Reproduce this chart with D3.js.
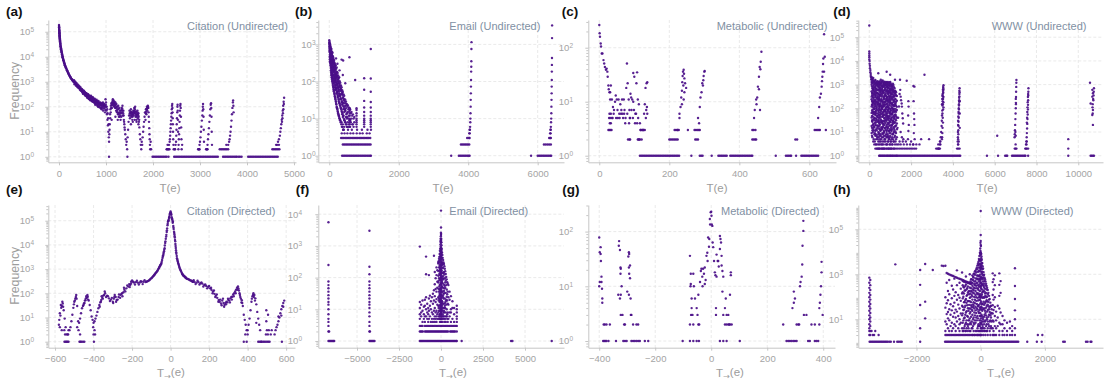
<!DOCTYPE html>
<html><head><meta charset="utf-8">
<script src="https://cdn.jsdelivr.net/npm/d3@7"></script>
<style>
html,body{margin:0;padding:0;background:#fff;}
svg{display:block;font-family:"Liberation Sans",Arial,Helvetica,sans-serif;}
</style></head><body>
<svg id="chart" width="1107" height="385"></svg>
<script>
// ---------------- (a) Citation, undirected: [T(e), frequency] ----------------
const citationUndirectedHead = [[0,186000],[1,170000],[2,158000],[3,141000],[4,130000],[5,120000],[6,110000],[7,102000],[8,95000],[9,89000],[10,83000],[11,77000],[12,72000],[13,67000],[14,63000],[15,60000],[17,55000],[19,50000],[21,46000],[23,42000],[25,38000],[28,34000],[30,31000],[33,28000],[36,25500],[39,23400],[42,21800],[45,20400],[48,18800],[52,17400],[56,15800],[60,14500],[64,13200],[68,12000],[72,11100],[76,10200],[80,9300],[85,8500],[90,7800],[95,7200],[100,6700],[105,6300],[110,5800],[116,5400],[122,5000],[128,4600],[134,4200],[141,3900],[148,3600],[156,3400],[164,3100],[172,2900],[181,2650],[190,2400],[199,2200],[208,2000],[218,1850],[227,1700],[236,1580],[245,1480],[255,1380],[265,1290],[276,1200],[288,1120],[300,1050],[312,1000],[326,930],[340,870],[355,810],[370,760],[385,700],[400,650],[420,590],[440,540],[460,490],[480,450],[500,410],[520,380],[540,350],[560,320],[580,295],[600,275],[625,250],[650,230],[675,215],[700,200],[725,185],[750,175],[775,160],[800,150],[830,138],[865,125],[900,118],[930,112],[965,105],[1000,100],
[2,150000],[5,112000],[8,88000],[12,68000],[16,53000],[20,43000],[26,33000],[32,26000],[40,20000],[50,15500],[62,12200],[75,9600],[90,7400],[106,5800],[124,4600],[145,3600],[170,2800],[195,2250],[222,1800],[250,1500],[280,1250],[310,1050],[345,880],[385,740],[430,610],[475,500],[525,420],[575,350],[630,290],[690,240]];
const citationUndirectedBand = [[350,950],[380,700],[420,620],[450,560],[470,480],[500,430],[510,330],[540,400],[560,280],[580,350],[600,230],[620,320],[640,260],[660,200],[680,280],[700,170],[720,240],[740,160],[760,210],[780,140],[800,190],[820,120],[840,170],[860,95],[880,150],[900,85],[920,140],[940,70],[960,130],[980,60],[1000,150],[990,200],[970,90],[950,110],[910,100],[890,120],[850,140],[830,100],[810,160],[790,170],[770,120],[730,190],[690,220],[670,180],[630,210],[590,300],[550,340],
[320,1150],[330,800],[345,1000],[360,700],[375,880],[390,620],[405,760],[415,560],[430,680],[445,480],[455,600],[465,440],[485,520],[495,380],[505,470],[515,340],[530,440],[545,300],[555,380],[570,270],[585,340],[595,250],[610,310],[615,230],[635,280],[645,200],[655,270],[665,190],[685,250],[695,180],[705,230],[715,160],[735,210],[745,150],[755,200],[765,140],[785,180],[795,125],[805,170],[815,110],[825,160],[835,130],[845,105],[855,150],[870,110],[875,140],[885,90],[895,135],[905,80],[915,125],[925,95],[935,150],[945,85],[955,120],[975,110],[985,75],[995,120],
[1010,70],[1020,50],[1030,30],[1040,18],[1050,10],[1060,6],[1065,4],[1070,8],[1075,12],[1080,20],[1090,35],[1100,60],[1110,90],[1120,120],[1130,150],[1140,170],[1150,140],[1160,180],[1170,130],[1180,160],[1190,110],[1200,150],[1210,90],[1220,130],[1230,70],[1240,100],[1250,60],[1260,110],[1270,50],[1280,90],[1290,40],[1300,70],[1310,30],[1320,55],[1330,90],[1340,60],[1350,110],[1360,45],[1370,70],[1380,30],[1390,20],[1400,12],[1410,8],[1420,5],[1430,3],[1440,4],[1450,2],[1460,6],[1470,12],[1480,25],[1490,45],[1500,70],[1510,35],[1520,55],[1530,80],[1540,40],[1550,60],[1560,30],[1570,50],[1580,70],[1590,45],[1600,90],[1610,55],[1620,100],[1630,40],[1640,65],[1650,30],[1660,50],[1670,70],[1680,35],[1690,55],[1700,25],[1710,15],[1720,8],[1730,5],[1740,3],[1750,2],[1760,4],[1770,3],[1780,6],[1790,10],[1800,16],[1810,25],[1820,40],[1830,60],[1840,30],[1850,80],[1860,50],[1870,100],[1880,70],[1890,110],[1900,90],[1905,60],[1910,40],[1915,25],[1920,14],[1925,8],[1930,5],[1935,3],[1940,2],[1950,4],[1960,2],
[1530,20],[1570,25],[1610,30],[1650,25],[1690,20],[1200,40],[1250,30],[1120,30],
[1015,100],[1025,80],[1035,55],[1045,35],[1055,20],[1085,50],[1095,80],[1105,110],[1115,140],[1125,90],[1135,120],[1145,200],[1155,110],[1165,150],[1175,100],[1185,130],[1195,90],[1205,120],[1215,70],[1225,100],[1235,60],[1245,80],[1255,50],[1265,80],[1275,40],[1285,60],[1295,55],[1305,45],[1315,70],[1325,40],[1335,75],[1345,85],[1355,70],[1365,55],[1375,45],[1385,25],[1395,15],[1505,55],[1515,45],[1525,65],[1535,60],[1545,50],[1555,45],[1565,40],[1575,60],[1585,55],[1595,65],[1605,70],[1615,80],[1625,60],[1635,50],[1645,45],[1655,40],[1665,60],[1675,50],[1685,45],[1695,40],[1705,30],[1845,55],[1855,65],[1865,80],[1875,85],[1885,90],[1895,100]];
const citationUndirectedSpikes = [[2300,2],[2310,3],[2330,2],[2340,3],[2350,2],[2355,4],[2360,5],[2365,7],[2370,10],[2375,14],[2380,20],[2385,28],[2390,40],[2395,55],[2400,80],[2405,110],[2410,130],[2413,90],[2416,60],[2420,35],[2423,20],[2426,10],[2430,5],[2435,3],
[2470,2],[2480,3],[2490,4],[2495,7],[2500,12],[2505,20],[2510,35],[2515,60],[2520,100],[2523,120],[2526,70],[2530,30],[2533,10],
[2545,3],[2550,5],[2555,8],[2560,14],[2565,25],[2570,45],[2575,70],[2580,110],[2585,130],[2590,90],[2595,40],[2600,15],[2605,5],[2610,2],[2540,2],[2620,3],
[2970,2],[2980,2],[2990,3],[3000,4],[3010,6],[3020,10],[3030,16],[3040,28],[3050,45],[3055,70],[3060,100],[3065,130],[3070,80],[3075,40],[3080,12],[3085,4],
[3140,2],[3150,2],[3160,3],[3170,5],[3180,8],[3190,14],[3200,25],[3210,45],[3220,80],[3228,120],[3235,140],[3240,90],[3245,40],[3250,10],[3255,3],
[3560,3],[3600,3],[3620,4],[3630,5],[3640,7],[3650,10],[3660,16],[3670,28],[3680,50],[3690,90],[3700,150],[3705,180],[3710,110],[3715,60],
[4620,3],[4640,3],[4660,4],[4680,5],[4700,7],[4710,10],[4720,14],[4730,20],[4740,30],[4750,45],[4760,70],[4770,110],[4780,160],[4790,230],[4785,130],[4775,80],[4765,55],[4755,35],[4745,25],[4680,3]];
const citationUndirectedOnes = [1064,1455,1990,2020,2050,2080,2110,2140,2170,2200,2230,2260,2290,2330,2450,2480,2510,2540,2570,2600,2630,2660,2690,2720,2750,2780,2810,2840,2870,2900,2930,2960,2990,3020,3050,3080,3110,3140,3170,3200,3230,3260,3290,3320,3350,3380,3490,3520,3550,3580,3610,3640,3670,3700,3730,3760,3785,3820,3850,3885,4025,4055,4085,4115,4145,4175,4205,4235,4265,4295,4325,4355,4385,4415,4445,4475,4505,4535,4565,4595,4625,4655];
const citationUndirectedTwos = [2290,2320,2440,2460,2960,2990,3130,3160,3420,3450,3480,3510,3540,3570,3600,4540,4570,4600,4630,4660,4690];

// ---------------- (b) Email, undirected ----------------
const emailUndirectedHead = [[0,[1290,1120,870]],[8,[1180,960,640]],[16,[1060,820,530,400]],[25,[990,690,480,330]],[34,[900,760,410,270]],[43,[830,580,440,230]],[52,[720,610,340,250,180]],[61,[760,470,380,210,150]],[70,[650,500,290,240,130]],[80,[580,420,330,170,115]],[90,[610,360,260,190,100]],[100,[490,390,220,140,85]],[112,[450,300,240,120,72]],[124,[400,330,180,105,62]],[136,[370,250,200,90,58]],[148,[320,270,150,112,47]],[160,[300,210,130,70,40]],[172,[260,230,105,82,35]],[185,[275,165,120,60,30]],[198,[220,150,92,66,25]],[212,[240,130,78,48,21]],[226,[180,140,85,52,19]],[240,[170,100,70,38,16]],[255,[145,115,55,42,14]],[270,[125,90,62,30,12]],[285,[130,72,48,33,11]],[300,[102,80,41,25,10]],[318,[92,58,45,22,9]],[336,[78,63,34,19]],[354,[70,45,28,16,8]],[372,[58,49,24,13]],[390,[52,36,27,11,7]],[410,[45,31,18,12]],[430,[41,26,15,9,6]],[455,[33,22,17,8]],[480,[29,19,11,7]],[505,[25,14,10,6]],[535,[23,15,8]],[565,[20,12,7]],[600,[18,9,6]],[640,[15,10]],[680,[13,7]],[720,[11,8]],
[4,[1050,760]],[12,[980,700,460]],[20,[900,610,350]],[30,[780,560,300]],[39,[700,500,360]],[48,[650,420,300,200]],[57,[600,400,280,165]],[66,[540,360,260,145]],[75,[520,330,200,125]],[85,[470,300,220,105]],[95,[430,280,160,92]],[106,[380,250,150,78]],[118,[350,220,135,68]],[130,[310,200,120,55]],[142,[290,180,100,50]],[154,[250,160,95,44]],[166,[225,140,80,38]],[178,[200,125,70,33]],[192,[180,110,63,28]],[205,[160,98,56,24]],[219,[145,88,50,20]],[233,[128,78,44,18]],[248,[112,68,38,15]],[262,[100,60,34,13]],[278,[88,54,28,12]],[292,[78,46,26,10]],[309,[70,40,23,9]],[327,[62,36,20,8]],[345,[55,32,18,7]],[363,[48,28,15,6]],[381,[43,25,14,6]],[400,[38,22,12,5]],[420,[34,20,10,5]],[442,[30,18,9]],[467,[26,16,8]],[492,[23,13,7]],[520,[21,11,6]],[550,[18,10,6]],[583,[16,9]],[620,[14,8]],[660,[12,7]],[700,[10,6]],
[590,[6,7,8,9,10,12,14,17,19]],[785,[6,7,8,9,10,12,14,17,19]],[1005,[6,7,8,9,10,12,15,20,30,60,122]],[1195,[6,7,8,9,10,12,15,20,28,53,120,750]]];
const emailUndirectedScatter = [[355,390],[400,370],[580,450],[745,110],[390,150],[295,200],[235,300],[195,420],[460,90],
[4040,3],[4045,4],[4050,5],[4055,6],[4060,8],[4063,10],[4066,14],[4070,21],[4073,32],[4076,48],[4079,73],[4082,110],[4085,185],[4088,250],[4090,350],[4092,750],[4095,1150],
[6360,3],[6370,4],[6375,5],[6380,6],[6385,8],[6390,10],[6393,14],[6396,21],[6399,32],[6402,48],[6404,73],[6406,110],[6408,185],[6410,280],[6412,430],[6414,1480],[6416,3250]];
const emailUndirectedOnes = [370,410,450,490,530,570,610,650,690,730,770,810,850,890,930,970,1010,1050,1090,1130,1170,1200,3510,3730,3770,3810,3850,3890,3930,3970,4010,4040,5810,6000,6040,6080,6120,6160,6200,6240,6280,6320,6360,6390];
const emailUndirectedTwos = [390,430,470,510,550,590,630,670,710,750,790,830,870,910,950,990,1030,1070,1110,1150,1190,3790,3830,3870,3910,3950,3990,4030,6180,6230,6280,6330,6380];
const emailUndirectedThrees = [340,380,420,460,500,540,580,620,660,700,740,780,820,860,900,940,980,1020,1060,1100,1140,1180,3970,4020,6330,6380];
const emailUndirectedFours = [360,440,520,610,690,790,880,960,1080,1160,4030,6360];
const emailUndirectedFives = [400,540,650,800,940,1100,1200,4040,6370];

// ---------------- (c) Metabolic, undirected ----------------
const metabolicUndirectedPoints = [[0,263],[1,185],[2,160],[4,120],[5,105],[7,78],[9,78],[12,59],[14,51],[16,44],[19,39],[21,41],[23,36],[24,29],[26,20],[27,17],[29,15],[31,15],[33,20],[36,11],[31,11],[29,6],[31,5],[36,5],[39,8],[41,6],[45,10],[47,13],[50,11],[53,5],[55,11],[57,6],[60,9],[62,6],[65,11],[68,5],[70,11],[71,6],[74,4],[77,18],[79,51],[81,22],[84,11],[86,7],[87,5],[89,14],[91,12],[94,11],[97,10],[97,34],[100,29],[103,6],[106,22],[108,35],[110,11],[113,9],[116,4],[118,3],[121,2],[123,3],[126,3],[128,6],[130,9],[132,18],[135,22],[137,23],[134,7],[137,6],
[28,5],[33,4],[38,5],[42,7],[48,5],[52,7],[58,5],[63,7],[66,6],[72,7],[75,5],[80,6],[85,4],[88,5],[92,7],[96,5],[99,7],[102,4],[105,6],[108,4],[111,5],[30,4],[33,6],[133,5],[136,8],
[229,6],[234,12],[236,16],[237,23],[239,36],[241,39],[242,33],[243,27],[245,22],[248,18],[243,15],[241,11],[236,9],[232,8],[229,5],[224,3],[253,3],[238,30],[240,20],
[282,5],[287,8],[289,12],[292,15],[294,22],[297,25],[300,36],[301,37],[285,4],[298,30],[296,20],
[442,5],[444,7],[448,11],[451,12],[453,19],[456,29],[458,44],[461,55],[463,84],[459,7],[456,17],[449,9],[460,40],
[625,5],[630,12],[633,14],[635,19],[637,29],[638,36],[640,63],[642,177],[644,68],[647,3],[642,36],[639,50],[636,24],[628,8]];
const metabolicUndirectedOnes = [116,120,124,128,132,136,140,144,148,152,156,160,164,168,172,176,180,184,188,192,196,200,204,208,212,216,220,224,228,263,287,291,295,321,340,344,348,352,356,360,364,374,378,382,386,390,394,398,402,406,410,414,418,422,426,430,434,437,504,533,537,541,545,548,562,577,581,585,589,593,597,601,605,609,613,617,621,625];
const metabolicUndirectedTwos = [82,86,88,110,112,114,116,200,204,208,212,216,220,224,274,278,282,437,441,445,448,560,565];
const metabolicUndirectedThrees = [26,29,32,35,118,122,126,130,215,219,223,227,272,276,280,284,287,437,441,446,615,619,623,627,630];

// ---------------- (d) WWW, undirected ----------------
const wwwUndirectedColumns = [[0,[310000,25000,20500,17000,14200,11500]],[15,[9800,7600]],[30,[6200,4900]],[50,[4100,3300]],[70,[2800,2300]],[90,[2000,1650]],
[110,[2100,1300,980,520,310,240,120,64,41,18,9]],[150,[1700,1450,700,430,190,150,88,33,27,12,6]],[190,[1900,860,610,350,270,110,72,58,22,14,4]],[240,[1250,1100,520,480,200,160,95,40,31,16,8,3]],[290,[1580,900,740,330,230,130,70,52,20,11,7,2]],[330,[1150,680,560,410,180,97,84,36,25,13,5,3]],[380,[1400,1020,450,290,250,140,61,44,19,15,6,2]],[430,[3000,1200,800,390,210,170,78,50,29,10,8,4,2]],[470,[1350,960,640,300,260,120,100,39,24,17,9,3,1]],[510,[1050,720,500,370,150,115,66,47,21,13,5,2,1]],[550,[1600,1150,580,440,220,135,80,55,34,12,7,4,1]],[600,[1280,830,690,310,195,105,92,30,26,14,6,3,2,1]],[640,[1480,770,540,420,170,125,60,45,23,16,8,4,2,1]],[690,[1190,990,460,280,240,118,74,51,28,11,9,3,2,1]],[730,[1320,870,600,340,185,150,86,37,20,15,5,2,1]],[780,[1090,930,430,360,205,98,70,48,32,12,7,4,1]],[830,[3500,1260,750,520,265,160,112,58,35,18,10,6,3,2,1]],[870,[1170,810,470,300,230,130,76,43,25,14,8,3,1]],[910,[980,700,560,390,175,108,90,38,22,17,6,4,2,1]],[960,[1220,880,500,270,215,145,63,49,30,11,9,5,2,1]],[1000,[2600,1310,640,450,320,190,96,67,27,19,7,3,1]],[1040,[1000,590,410,250,160,82,54,33,15,12,4,2,1]],[1090,[860,730,380,310,140,104,59,42,20,13,6,3,1]],[1130,[1080,620,470,230,178,88,71,29,24,8,5,2,1]],[1180,[780,510,330,205,122,93,44,36,14,10,4,2,1]],[1230,[1600,560,420,245,150,78,53,26,17,7,3,1]],[1280,[480,350,190,128,72,46,31,19,9,5,2,1]],[1320,[330,210,115,85,40,23,13,6,3,1]],
[130,[1800,1150,830,450,360,205,140,78,48,29,15,7]],[170,[1500,1230,650,560,300,170,130,66,45,20,10]],[215,[1350,990,720,400,230,185,92,70,35,17,12,5]],[265,[1450,780,600,390,290,145,115,58,38,24,9,4]],[310,[1220,1030,480,350,205,160,75,62,29,19,8,3]],[355,[1300,910,640,450,280,120,105,49,33,12,7,2]],[405,[1100,870,590,330,190,155,88,42,27,18,5,3]],[450,[1250,1050,560,420,240,145,70,57,32,14,6,2]],[490,[1180,820,720,360,230,135,86,53,26,20,7,4,2]],[530,[1350,910,600,330,200,165,90,41,30,11,8,3]],[575,[1150,990,510,390,250,125,74,60,25,16,5,2]],[620,[1380,880,620,350,215,110,98,44,28,13,9,3]],[665,[1050,830,500,460,190,150,68,52,22,18,6,2]],[710,[1250,940,560,310,255,128,83,39,30,10,7,4]],[755,[1150,760,650,380,180,140,77,56,24,14,5,2]],[805,[1280,990,540,330,240,112,90,41,29,16,8,3]],[850,[1060,880,610,290,210,150,64,50,21,12,6,2]],[890,[1300,760,520,420,200,120,85,46,33,15,7,4]],[935,[1120,930,450,330,240,100,73,37,24,11,5,2]],[980,[1020,700,580,300,170,130,60,44,19,13,6,3]],[1020,[1150,830,490,360,215,95,77,35,26,9,4,2]],[1065,[950,680,420,280,165,120,56,39,18,11,5,2]],[1110,[880,600,520,260,150,98,64,31,21,8,3]],[1155,[960,560,380,300,135,80,50,28,16,9,4]],[1205,[700,470,310,190,130,70,40,24,12,6,2]],[1255,[520,380,240,160,95,55,34,18,10,4]]];
const wwwUndirectedScatter = [[1470,1600],[1480,600],[1500,310],[1520,220],[1550,160],[1560,118],[1580,60],[1600,38],[1620,23],[1500,10],[1560,6],[1630,5],[1450,400],[1420,120],[1380,40],[1350,15],
[1790,1450],[1870,200],[1880,118],[1860,50],[1890,20],[1870,11],[1850,5],[2110,870],[2160,820],[2120,200],[2140,60],[2150,35],[2160,20],[2130,9],[2170,5],[2100,3],[2640,2600],[2480,5],[2860,5],[2400,3],[2250,3],[6120,7],
[3300,2],[3340,2],[3380,3],[3400,4],[3420,6],[3440,10],[3460,18],[3470,30],[3480,50],[3490,80],[3500,130],[3510,200],[3520,320],[3530,500],[3540,700],[3550,950],[3530,250],[3520,150],[3500,60],[3510,400],[3540,450],[3550,600],[3545,300],[3480,150],[3490,250],[3500,350],[3520,600],[3535,800],[3545,180],[3550,110],[3530,90],[3515,40],[3525,25],[3505,15],[3495,9],[3485,6],[3475,5],
[4250,3],[4250,5],[4260,8],[4260,12],[4270,18],[4270,27],[4280,40],[4280,60],[4290,90],[4290,130],[4300,190],[4300,280],[4310,400],[4310,550],[4320,700],[4320,480],[4310,320],[4300,220],[4290,150],[4280,100],[4270,70],[4260,45],[4250,30],[4250,20],[4240,10],[4240,6],[4230,4],[4330,200],[4330,60],[4330,15],
[6950,6],[6960,8],[6970,12],[6980,20],[6990,35],[7000,60],[7010,100],[7015,170],[7020,300],[7025,500],[7030,800],[7040,1580],[7035,1200],[7005,7],[6990,10],[7020,150],[7010,250],
[7500,3],[7520,4],[7530,6],[7540,9],[7550,14],[7560,22],[7570,35],[7580,55],[7590,90],[7595,140],[7600,220],[7605,350],[7610,500],[7615,700],[7600,400],[7590,300],[7580,180],[7570,110],[7560,70],[7550,40],[7540,25],
[9520,2],[9520,5],
[10560,1200],[10590,160],[10670,600],[10700,430],[10670,310],[10720,220],[10700,85],[10670,52],[10700,20],[10750,700],[10740,500],[10730,350],[10710,250],[10690,150],[10680,110],[10690,60]];
const wwwUndirectedOnes = [1360,1420,1480,1540,1600,1660,1720,1780,1840,1900,1960,2020,2080,2140,2200,2260,2320,2380,2440,2500,2560,2620,2680,2740,2800,2860,2920,2980,3040,3100,3160,3220,3280,3340,3400,3460,3520,3580,3640,3700,3760,3820,3880,3940,4000,4060,4120,4180,4240,4300,4350,5630,6160,6500,6560,6600,6830,6890,6950,7010,7070,7130,7190,7250,7310,7370,7430,7470,7600,9520,10590,10640,10700,10750];
const wwwUndirectedTwos = [1360,1440,1520,1600,1680,1760,1840,1920,2000,2080,2160,2240,3200,3260,3320,3380,4200,4260,4320,6960,7000,7040,7460,7500,7540,7600];
const wwwUndirectedThrees = [1400,1500,1650,1800,1950,2100,3300,3400,4250,7000,7520];
const wwwUndirectedFours = [1450,1600,1750,2000,3380,4280,7530];

// ---------------- (e) Citation, directed: [T→(e), frequency] ----------------
const citationDirectedPeak = [[0,240000],[-2,215000],[2,210000],[-4,185000],[4,175000],[-6,155000],[6,140000],[-8,130000],[8,115000],[-10,110000],[10,100000],[-12,98000],[12,90000],[-14,90000],[14,60000],[-16,65000],[16,45000],[-18,48000],[18,35000],[-20,34000],[20,27000],[-22,26000],[22,20000],[-25,18000],[24,14000],[-28,12000],[26,9000],[-31,7300],[28,6000],[-34,5500],[30,4300],[-37,4200],[33,2800],[-40,3300],[36,2200],[-44,2400],[39,1800],[-48,1750],[42,1500],[-52,1500],[46,1200],[-56,1300],[50,950],[-61,1080],[55,790],[-67,900],[60,650],[-74,740],[64,570],[-80,640],[68,530],[-86,560],[73,490],[-92,490],[77,460],[-100,420],[81,420],[-109,355],[90,390],[-118,320],[99,355],[-126,300],[108,330],[116,300],
[-3,200000],[3,190000],[-7,140000],[7,125000],[-11,100000],[11,82000],[-15,75000],[15,52000],[-19,40000],[19,31000],[-23,22000],[21,23000],[-27,14000],[23,16000],[-30,9500],[25,11000],[-33,6400],[27,7500],[-36,4800],[29,5000],[-39,3700],[32,3500],[-42,2900],[35,2500],[-46,2000],[38,2000],[-50,1600],[41,1650],[-54,1400],[44,1350],[-59,1200],[48,1050],[-64,1000],[53,870],[-70,820],[58,700],[-77,700],[62,610],[-83,600],[66,550],[-89,520],[71,510],[-96,450],[75,470],[-105,390],[79,440],[-113,340],[85,400],[-122,310],[95,370],[104,340],[112,310]];
const citationDirectedLeft = [[-130,290],[-140,300],[-150,300],[-160,280],[-170,275],[-180,290],[-190,280],[-200,340],[-205,250],[-210,220],[-215,240],[-220,190],[-230,160],[-240,140],[-245,110],[-250,75],[-255,95],[-260,85],[-270,70],[-280,53],[-285,70],[-290,85],[-295,60],[-300,45],[-310,55],[-320,62],[-330,80],[-340,100],[-345,85],[-350,80],[-355,65],[-360,53],[-365,42],[-370,33],[-375,24],[-380,17],[-385,12],[-390,9],[-395,7],[-400,6],[-405,8],[-410,11],[-415,20],[-420,33],[-425,50],[-430,72],[-435,65],[-440,62],[-445,50],[-450,38],[-455,30],[-460,24],[-465,15],[-470,9],[-475,6],[-480,7],[-485,30],[-490,85],[-495,60],[-500,45],[-505,25],[-510,13],[-515,7],[-520,4],[-525,3],[-530,3],[-535,2],[-540,2],[-545,4],[-550,9],[-555,20],[-560,38],[-565,30],[-570,33],[-575,15],[-580,5],
[-135,350],[-145,240],[-155,320],[-165,230],[-175,330],[-185,230],[-195,300],[-205,300],[-212,180],[-225,210],[-235,120],[-242,170],[-252,100],[-262,65],[-268,90],[-275,55],[-283,45],[-292,70],[-298,40],[-305,65],[-315,48],[-325,75],[-335,70],[-342,120],[-352,60],[-358,75],[-362,45],[-368,28],[-428,55],[-432,85],[-438,75],[-442,52],[-447,40],[-452,33],[-488,60],[-492,70],[-497,50],[-502,35],[-558,28],[-562,45],[-568,25],
[-551,1],[-545,1],[-540,1],[-535,1],[-530,1],[-473,1],[-468,1],[-463,1],[-455,1],[-448,1],[-398,1],[-548,2],[-532,2],[-470,2],[-400,2],[-392,2],[-552,3],[-478,3],[-395,3],[-565,3],[-575,4],[-485,4],[-402,4],[-578,8],[-572,12]];
const citationDirectedRight = [[116,300],[125,290],[135,275],[145,290],[155,260],[165,250],[175,220],[185,200],[195,185],[205,160],[212,140],[220,120],[228,95],[235,80],[242,65],[250,53],[255,45],[262,38],[268,50],[275,40],[280,33],[285,40],[290,45],[295,42],[300,53],[305,50],[310,62],[315,70],[320,72],[325,90],[330,100],[335,120],[340,140],[345,170],[350,190],[355,130],[360,85],[365,60],[370,52],[375,30],[380,13],[385,8],[390,5],[395,3],[400,3],[405,5],[410,9],[415,20],[420,45],[425,75],[430,100],[435,85],[440,62],[445,35],[450,17],[455,9],[460,5],[465,3],[470,1],
[120,350],[130,240],[140,330],[150,230],[160,280],[170,190],[180,230],[190,160],[200,200],[210,170],[218,100],[225,130],[232,70],[240,90],[248,45],[258,55],[265,32],[272,60],[278,28],[288,35],[298,60],[308,42],[318,55],[328,75],[338,100],[348,140],[352,160],[358,100],[362,70],[368,42],[372,40],[422,60],[428,85],[432,70],[438,50],
[380,1],[388,2],[395,1],[400,2],[455,1],[462,1],[470,1],[478,1],[485,1],[492,1],[500,1],[507,1],[514,1],[495,2],[505,2],[520,2],[500,3],[510,3],[525,3],[497,20],[506,13],[497,7],[445,6],
[540,2],[545,3],[550,4],[555,5],[560,7],[565,10],[570,15],[575,22],[580,30],[585,40],[590,50],[585,28],[575,12],[578,1],[560,11]];

// ---------------- (f) Email, directed ----------------
const emailDirectedColumns = [[-6700,[5600,250,75,58,46,36,28,22,17,14,10,7,5,4]],[-4260,[3000,220,127,75,58,46,36,28,22,17,14,11,8,6,4]],
[-1260,[950,17,11,7,5]],[-1180,[14,8,6]],[-1100,[19,9,4]],[-1020,[12,7,5]],[-960,[20,13,6,4]],[-890,[460,127,24,10,6]],[-820,[15,8,5]],[-760,[11,7,4]],[-720,[120,22,9,5]],[-660,[27,13,6]],[-600,[18,10,4]],[-540,[24,8,5]],[-480,[31,15,7,4]],[-420,[490,40,19,9,5]],[-370,[150,62,26,11,6,4]],[-320,[95,44,17,8,5]],[-270,[210,120,36,21,9,6,4]],[-220,[170,74,48,14,7,5]],
[-160,[300,280,115,70,24,13,8]],[-120,[390,210,95,36,22,9,6]],[-80,[560,240,170,58,31,17,7,5]],[-50,[820,470,190,120,44,29,11,6]],[-25,[1400,640,380,140,92,34,18,9,5]],[-10,[2000,1250,470,300,105,70,24,13,7]],[0,[13000,3800,2200,1600,880,430,260,98,62,22,16,7,5]],[10,[1700,780,520,190,130,44,30,12,8,4]],[30,[1050,610,240,170,56,39,15,10,5]],[60,[620,290,210,73,50,18,13,6]],[100,[420,260,96,66,24,15,7,5]],[150,[300,140,90,31,22,8,6]],[200,[230,125,45,32,11,8,4]],[250,[160,70,48,16,11,5]],[310,[105,58,20,14,6]],[370,[72,30,19,7,5]],[440,[58,24,14,5]],[510,[36,20,8,6]],[590,[26,10,8,4]],[680,[18,11,5]],[780,[11,7,4]],[940,[13,10,8,6,5,4]],
[-140,[330,160,80,44,19,11,5]],[-100,[450,300,130,52,27,13,6]],[-65,[700,350,210,85,40,20,9,4]],[-38,[1100,560,260,150,62,26,14,7]],[-17,[1700,950,560,230,120,48,21,10,5]],[-4,[2600,1500,800,400,170,80,36,17,8,4]],[5,[2400,1300,700,330,150,64,28,14,6]],[20,[1300,700,380,160,90,36,19,9,5]],[45,[820,430,260,110,52,27,11,6]],[80,[520,300,140,84,35,17,9,4]],[125,[360,200,110,48,27,11,6]],[175,[270,150,60,38,15,9,5]],[225,[190,95,55,22,13,6]],[280,[130,80,33,18,8,4]],[340,[88,42,25,10,6]],[400,[64,36,15,8,4]]];
const emailDirectedOnes = [-6700,-6640,-6580,-6520,-6460,-6400,-6360,-4260,-4200,-4140,-4080,-4020,-3960,-1260,-1200,-1140,-1080,-1020,-960,-900,-840,-780,-720,-660,-600,-540,-480,-420,-360,-300,-240,-180,-120,-60,0,60,120,180,240,300,360,420,480,540,600,660,720,780,840,900,940,1230,4170,4250,6590];
const emailDirectedTwos = [-6700,-6660,-4260,-4230,-1260,-1200,-1140,-1080,-960,-900,-840,-780,-720,-660,-600,-540,-480,-420,-360,-300,-240,-180,-120,-60,0,60,120,180,240,300,360,420,540,600,660,720,780,840,940];
const emailDirectedThrees = [-6700,-4260,-1260,-1180,-1100,-960,-880,-800,-720,-640,-560,-480,-400,-320,-240,-160,-80,0,80,160,240,320,400,480,560,640,720,800,880,940];

// ---------------- (g) Metabolic, directed ----------------
const metabolicDirectedPoints = [[-400,78],[-395,52],[-398,42],[-395,39],[-394,29],[-400,10],[-398,12],[-392,12],[-392,15],[-390,9],[-389,6],[-389,5],[-384,2],[-380,2],[-374,2],[-362,2],[-386,1],[-382,1],[-378,1],[-374,1],[-367,1],[-340,1],
[-329,67],[-330,55],[-326,46],[-324,22],[-323,21],[-324,17],[-320,10],[-323,7],[-332,7],[-326,6],[-317,3],[-323,3],[-311,2],[-308,2],[-314,1],[-308,1],[-302,1],
[-294,42],[-293,39],[-296,35],[-290,24],[-294,22],[-293,17],[-290,14],[-300,8],[-294,7],[-288,6],[-287,3],[-285,3],[-279,2],[-267,2],[-261,2],[-285,1],[-279,1],[-273,1],[-267,1],[-261,1],[-255,1],[-237,1],[-225,1],
[-102,1],[-76,1],[-64,1],[-52,1],[-44,1],[-73,17],[-76,36],[-74,10],[-73,11],[-70,6],[-64,17],[-62,10],[-70,4],[-67,3],[-72,3],[-64,2],[-76,2],[-58,6],[-52,4],[-49,3],[-46,2],[-43,2],[-46,7],[-40,12],[-37,19],[-35,21],[-32,15],[-31,10],[-29,21],[-26,17],[-23,22],[-23,11],[-20,13],[-17,36],[-14,41],[-13,29],[-11,78],[-8,53],[-7,73],[-5,170],[-4,135],[-2,225],[0,230],[1,195],[2,135],[4,127],[5,63],[7,52],[10,29],[13,18],[15,16],[19,15],[17,4],[19,38],[23,29],[25,29],[27,23],[31,83],[33,73],[35,63],[31,48],[37,36],[40,19],[43,15],[37,24],[40,8],[43,3],[49,4],[52,6],[55,3],[61,3],[67,7],[67,2],[61,2],[49,2],[55,2],[64,2],[70,18],[70,16],[73,2],[43,1],[55,1],[102,1],[31,1],[17,3],
[257,2],[269,1],[275,1],[281,1],[287,1],[293,1],[299,1],[305,1],[290,4],[295,8],[299,6],[295,5],[305,2],[311,2],[314,2],[317,10],[319,12],[323,15],[325,25],[326,55],[329,103],[329,157],[331,3],[340,3],[346,1],[352,1],[358,2],[370,1],[376,1],[382,1],[386,2],[386,4],[388,5],[390,7],[392,10],[394,18],[394,28],[398,3],[370,2]];

// ---------------- (h) WWW, directed ----------------
const wwwDirectedColumns = [[-3470,[710,420,250,150,95,60,38,24,15,10,6,4,3,2]],[-3440,[560,330,200,120,75,48,30,19,12,8,5,3,2]],
[-1100,[2400,95,33,8,3,2]],[-1060,[1150,420,52,17,6,2]],[-1020,[1060,180,70,21,11,4,2]],[-980,[990,560,130,28,9,3,2]],[-940,[930,47,16,5,2]],[-900,[880,310,86,25,7,3,2]],[-860,[840,210,38,13,4,2]],[-820,[790,640,110,55,19,6,2]],[-780,[750,160,27,12,5,3,2]],[-740,[1500,700,330,74,22,8,2]],[-700,[660,120,45,14,4,2]],[-660,[630,420,91,30,10,6,3,2]],[-620,[600,230,66,18,7,2]],[-580,[1200,570,140,40,15,4,2]],[-540,[540,280,100,26,9,3,2]],[-500,[510,190,58,34,12,5,2]],[-460,[800,480,350,80,20,7,3,2]],[-420,[460,240,120,42,14,6,2]],[-380,[430,170,64,24,9,4,2]],
[-560,[500,330,160,85,36,18,7,3]],[-520,[470,260,140,58,27,11,4]],[-480,[450,300,190,70,40,16,6,3]],[-440,[440,210,110,54,23,9,4]],[-400,[410,290,150,66,31,13,5,3]],
[-360,[400,180,130,44,30,9,6]],[-340,[1000,410,260,90,64,18,11,3,2]],[-320,[370,480,140,95,30,21,7,3]],[-300,[380,600,240,180,58,42,13,6,2]],[-280,[600,440,170,120,36,27,8,4]],[-260,[900,400,310,105,75,24,16,4,2]],[-240,[780,560,210,150,46,34,10,5,2]],[-220,[1050,720,260,190,58,40,12,7,3]],[-200,[1100,480,370,140,98,30,20,6,2]],[-180,[1350,950,330,240,74,52,15,9,2]],[-160,[1450,650,500,180,120,36,25,7,3]],[-140,[1700,1200,400,310,95,66,19,12,2]],[-120,[2000,880,650,240,150,48,31,9,3]],[-100,[2500,1700,600,420,130,90,27,14,4,2]],[-85,[3000,1300,900,330,230,68,40,11,5,2]],[-70,[3600,2600,820,610,200,140,38,22,6,3]],[-55,[4800,2000,1400,500,280,95,44,19,5,2]],[-40,[6500,4200,1350,820,350,120,75,26,9,3]],[-25,[9000,4100,2800,950,600,180,110,33,14,5,2]],[-15,[14000,8200,3000,2000,620,420,130,70,19,7,3]],[-8,[25000,11000,7200,2400,1600,520,300,95,52,14,6,2]],
[0,[650000,56000,30000,20000,9500,4200,1800,700,260,90,30,9,2]],[8,[18000,8500,4000,1800,750,300,100,35,11,4]],
[15,[8000,5200,2100,1300,420,230,60,27,7,4]],[25,[6200,2600,1900,640,380,110,45,16,3]],[35,[4400,3100,1100,720,210,130,34,14,6,2]],[48,[3200,1300,950,360,160,50,24,8,4]],[60,[2300,1700,600,330,90,48,12,5,3]],[75,[1800,700,480,170,95,28,10,4]],[90,[1250,880,300,190,60,30,8,2]],[105,[950,380,260,90,44,13,6,3]],[120,[700,500,170,100,30,16,4]],[135,[600,230,140,52,24,8,3]],[150,[480,320,110,60,19,9,2]],[168,[380,150,95,33,15,5]],[185,[300,210,70,40,12,6,3]],[200,[250,100,62,22,10,3]],[220,[200,130,45,26,8,4,2]],[240,[150,60,38,13,6]],[260,[110,75,28,16,5]],[280,[80,34,21,8,3]],[300,[55,38,15,9,4,2]],[320,[40,18,12,5]],[340,[28,19,8,4]],
[375,[1100,450,120,42,18,9,4,2]],[400,[600,210,75,26,8,3,2]],[440,[900,330,95,35,14,5,2]],[480,[22,9,4,2]],[530,[40,12,5]],[580,[1100,340,110,30,7,3,2]],[620,[500,150,20,6]],[680,[14,6,3,2]],[740,[9,4,2]],[820,[7,3,2]],[910,[8,4,2]],[980,[5,3,2]],[1067,[1850,300,80,25,10,4,2]]];
const wwwDirectedScatter = [[-2660,2770],[-1886,1560],[-1886,340],[-1886,43],[-1886,4],[-1730,2850],[-1730,61],[-1730,11],[-1492,1560],[-1212,2420],[-1160,2340],[-3285,3],[-3180,2],[-3400,3],[-3360,2],[-3320,2],[1780,2],[1920,2]];
const wwwDirectedOnes = [-3460,-3420,-3380,-3340,-3300,-3260,-3220,-3180,-3140,-3100,-3060,-3020,-2980,-2940,-2900,-2850,-2800,-2700,-2600,-2550,-2500,-2460,-1886,-1110,-1070,-1030,-990,-950,-910,-870,-830,-790,-750,-710,-670,-630,-590,-550,-510,-470,-430,-390,-350,-310,-270,-230,-190,-150,-110,-70,-30,10,50,90,130,170,210,250,290,330,370,410,450,490,530,570,610,650,690,730,770,810,850,890,930,970,1010,1050,1090,1130,1170,1450,1750,1900,2570,2620,3280,3330,3420,3450];

// ---------------- panel layout ----------------
const panels = [
  {tag:"(a)", title:"Citation (Undirected)", row:0, px:[48.3,296], xDom:[-228,5043], yExp:[-0.22,5.47], xTicks:[0,1000,2000,3000,4000,5000], yTicks:[0,1,2,3,4,5], labGap:14.3, titleX:187, tagX:6, xLabX:170, freq:true,
   pairs:[citationUndirectedHead,citationUndirectedBand,citationUndirectedSpikes], cols:[], rows:[[1,citationUndirectedOnes],[2,citationUndirectedTwos]]},
  {tag:"(b)", title:"Email (Undirected)", row:0, px:[318.3,564], xDom:[-316,6758], yExp:[-0.178,3.658], xTicks:[0,2000,4000,6000], yTicks:[0,1,2,3], labGap:2.8, titleX:449.3, tagX:295, xLabX:443,
   pairs:[emailUndirectedScatter], cols:[emailUndirectedHead], rows:[[1,emailUndirectedOnes],[2,emailUndirectedTwos],[3,emailUndirectedThrees],[4,emailUndirectedFours],[5,emailUndirectedFives]]},
  {tag:"(c)", title:"Metabolic (Undirected)", row:0, px:[588.3,836], xDom:[-31.4,676], yExp:[-0.122,2.513], xTicks:[0,200,400,600], yTicks:[0,1,2], labGap:15.3, titleX:716.7, tagX:561.7, xLabX:717,
   pairs:[metabolicUndirectedPoints], cols:[], rows:[[1,metabolicUndirectedOnes],[2,metabolicUndirectedTwos],[3,metabolicUndirectedThrees]]},
  {tag:"(d)", title:"WWW (Undirected)", row:0, px:[858.3,1103], xDom:[-526,11182], yExp:[-0.278,5.726], xTicks:[0,2000,4000,6000,8000,10000], yTicks:[0,1,2,3,4,5], labGap:14.3, titleX:991.7, tagX:833.3, xLabX:987,
   pairs:[wwwUndirectedScatter], cols:[wwwUndirectedColumns], rows:[[1,wwwUndirectedOnes],[2,wwwUndirectedTwos],[3,wwwUndirectedThrees],[4,wwwUndirectedFours]]},
  {tag:"(e)", title:"Citation (Directed)", row:1, px:[48.3,295], xDom:[-635,646], yExp:[-0.248,5.649], xTicks:[-600,-400,-200,0,200,400,600], yTicks:[0,1,2,3,4,5], labGap:14.3, titleX:186.7, tagX:6, xLabX:171, freq:true,
   pairs:[citationDirectedPeak,citationDirectedLeft,citationDirectedRight], cols:[], rows:[]},
  {tag:"(f)", title:"Email (Directed)", row:1, px:[318.3,564], xDom:[-7304,7321], yExp:[-0.211,4.29], xTicks:[-5000,-2500,0,2500,5000], yTicks:[0,1,2,3,4], labGap:16.3, titleX:449.3, tagX:295.7, xLabX:453,
   pairs:[], cols:[emailDirectedColumns], rows:[[1,emailDirectedOnes],[2,emailDirectedTwos],[3,emailDirectedThrees]]},
  {tag:"(g)", title:"Metabolic (Directed)", row:1, px:[588.3,835], xDom:[-439,442], yExp:[-0.122,2.486], xTicks:[-400,-200,0,200,400], yTicks:[0,1,2], labGap:15.3, titleX:721, tagX:562.3, xLabX:730,
   pairs:[metabolicDirectedPoints], cols:[], rows:[]},
  {tag:"(h)", title:"WWW (Directed)", row:1, px:[858.3,1103], xDom:[-3813,3810], yExp:[-0.262,6.08], xTicks:[-2000,0,2000], yTicks:[1,3,5], labGap:15.3, titleX:991, tagX:833.3, xLabX:1001,
   pairs:[wwwDirectedScatter], cols:[wwwDirectedColumns], rows:[[1,wwwDirectedOnes]]}
];

const rowGeom = [
  {top:20, bottom:162.3, tagY:15.5, titleY:29.5, tickLabY:173.3, xLabY:191.5, freqY:90.8},
  {top:205, bottom:347.7, tagY:194, titleY:214.5, tickLabY:358.3, xLabY:377, freqY:275.8}
];

const DOT = "#4a0e88", AXIS = "#c6c6c6", GRID = "#e4e4e4", TICKTXT = "#a4a4a4", LABTXT = "#9c9c9c";

const svg = d3.select("#chart");

function collect(p) {
  const out = [];
  p.pairs.forEach(arr => arr.forEach(d => out.push([d[0], d[1]])));
  p.cols.forEach(arr => arr.forEach(c => c[1].forEach(f => out.push([c[0], f]))));
  p.rows.forEach(r => r[1].forEach(x => out.push([x, r[0]])));
  return out;
}

panels.forEach(p => {
  const g = rowGeom[p.row];
  const x = d3.scaleLinear().domain(p.xDom).range(p.px);
  const y = d3.scaleLog().domain([Math.pow(10, p.yExp[0]), Math.pow(10, p.yExp[1])]).range([g.bottom, g.top]);
  const root = svg.append("g");

  // dashed grid at the major ticks
  root.append("g").selectAll("line").data(p.xTicks).join("line")
    .attr("x1", d => x(d)).attr("x2", d => x(d)).attr("y1", g.top).attr("y2", g.bottom)
    .attr("stroke", GRID).attr("stroke-width", 0.8).attr("stroke-dasharray", "3,2");
  root.append("g").selectAll("line").data(p.yTicks).join("line")
    .attr("x1", p.px[0]).attr("x2", p.px[1]).attr("y1", d => y(Math.pow(10, d))).attr("y2", d => y(Math.pow(10, d)))
    .attr("stroke", GRID).attr("stroke-width", 0.8).attr("stroke-dasharray", "3,2");

  // x axis
  const xa = root.append("g").attr("transform", `translate(0,${g.bottom})`)
    .call(d3.axisBottom(x).tickValues(p.xTicks).tickSize(3).tickSizeOuter(0).tickFormat(d3.format("d")));
  xa.select(".domain").attr("stroke", AXIS);
  xa.selectAll(".tick line").attr("stroke", AXIS);
  xa.selectAll(".tick text").attr("y", g.tickLabY - g.bottom).attr("dy", "0.35em")
    .attr("fill", TICKTXT).style("font-size", "9.5px").style("font-family", "'Liberation Sans',Arial,sans-serif");

  // y axis with log minor ticks
  const minor = [];
  for (let e = Math.floor(p.yExp[0]); e <= Math.ceil(p.yExp[1]); e++) {
    for (let m = 2; m <= 9; m++) {
      const v = m * Math.pow(10, e);
      if (Math.log10(v) > p.yExp[0] && Math.log10(v) < p.yExp[1]) minor.push(v);
    }
  }
  const ya = root.append("g").attr("transform", `translate(${p.px[0]},0)`)
    .call(d3.axisLeft(y).tickValues(p.yTicks.map(e => Math.pow(10, e))).tickSize(3).tickSizeOuter(0).tickFormat(""));
  ya.select(".domain").attr("stroke", AXIS);
  ya.selectAll(".tick line").attr("stroke", AXIS);
  const ym = root.append("g").attr("transform", `translate(${p.px[0]},0)`)
    .call(d3.axisLeft(y).tickValues(minor).tickSize(2).tickFormat(""));
  ym.select(".domain").remove();
  ym.selectAll(".tick line").attr("stroke", AXIS);

  const yl = root.append("g").selectAll("text").data(p.yTicks).join("text")
    .attr("x", p.px[0] - p.labGap).attr("y", d => y(Math.pow(10, d))).attr("dy", "0.35em")
    .attr("text-anchor", "end").attr("fill", TICKTXT).style("font-size", "9.5px");
  yl.append("tspan").text("10");
  yl.append("tspan").attr("dy", "-0.45em").style("font-size", "6.5px").text(d => d);

  // points
  const pts = collect(p);
  root.append("g").selectAll("circle").data(pts).join("circle")
    .attr("cx", d => x(d[0])).attr("cy", d => y(d[1])).attr("r", 1.2)
    .attr("fill", DOT).attr("fill-opacity", 0.92);

  // in-panel title
  root.append("text").attr("x", p.titleX).attr("y", g.titleY)
    .attr("fill", "#8190a3").style("font-size", "11px").text(p.title);

  // panel tag
  root.append("text").attr("x", p.tagX).attr("y", g.tagY)
    .attr("fill", "#111").style("font-size", "13.5px").style("font-weight", "bold").text(p.tag);

  // x axis title
  const xt = root.append("text").attr("x", p.xLabX).attr("y", g.xLabY).attr("text-anchor", "middle")
    .attr("fill", LABTXT).style("font-size", "11.5px");
  if (p.row === 0) {
    xt.text("T(e)");
  } else {
    xt.append("tspan").text("T");
    xt.append("tspan").attr("dy", "0.25em").style("font-size", "8px").style("font-family", "'DejaVu Sans',sans-serif").text("→");
    xt.append("tspan").attr("dy", "-0.25em").text("(e)");
  }

  if (p.freq) {
    root.append("text").attr("transform", `translate(19,${g.freqY}) rotate(-90)`)
      .attr("text-anchor", "middle").attr("fill", LABTXT).style("font-size", "12.3px").text("Frequency");
  }
});
</script></body></html>
